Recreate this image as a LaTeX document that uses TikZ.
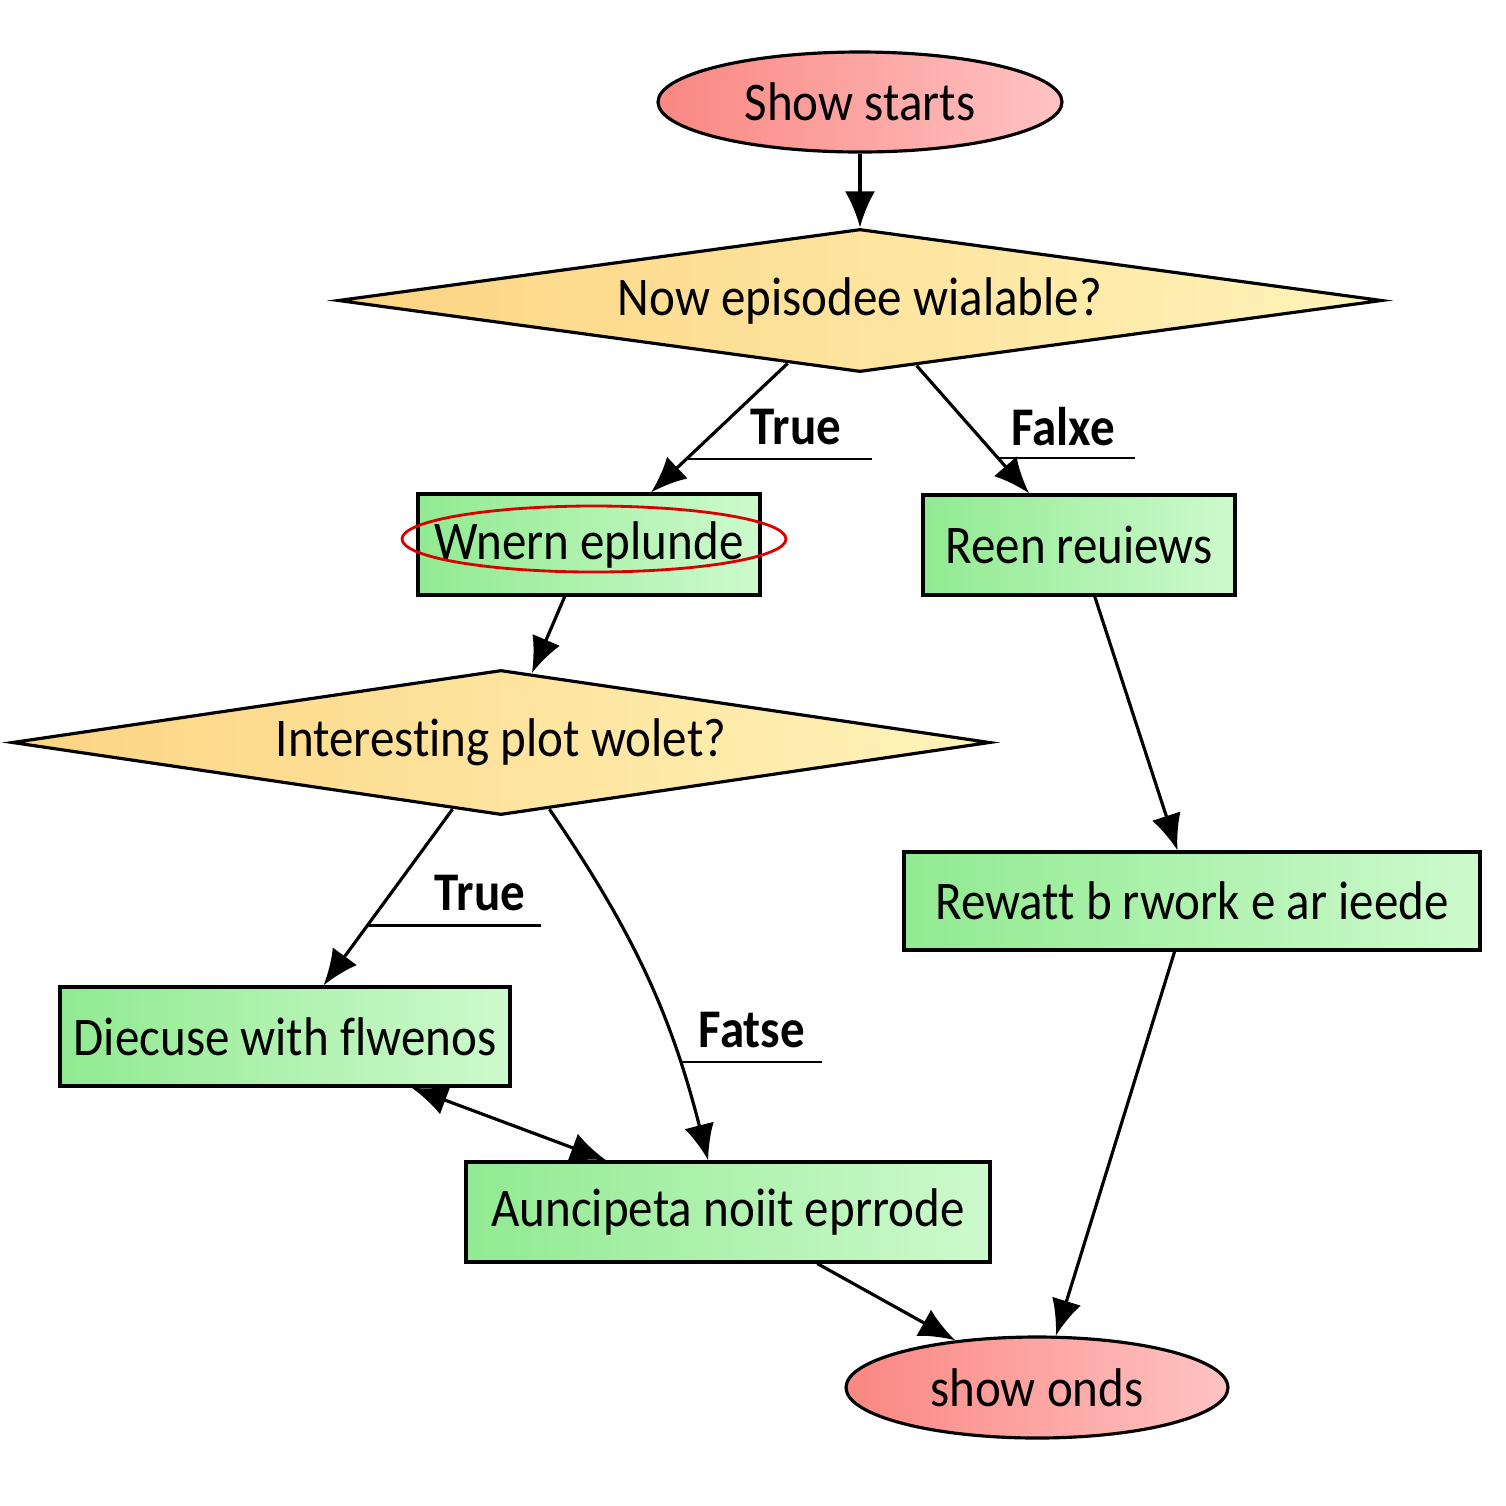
\documentclass[tikz,border=0pt]{standalone}
\usepackage{fontspec}
\setmainfont{Carlito}[FakeStretch=0.9, Ligatures=NoCommon]
\usetikzlibrary{shapes.geometric, arrows.meta}

\definecolor{termleft}{RGB}{250,135,130}
\definecolor{termright}{RGB}{255,195,195}
\definecolor{decleft}{RGB}{252,212,130}
\definecolor{decright}{RGB}{255,243,185}
\definecolor{procleft}{RGB}{145,234,145}
\definecolor{procright}{RGB}{205,250,205}

\begin{document}
\begin{tikzpicture}[
        >={Latex[length=3.6mm,width=3mm]},
        every node/.style={font=\fontsize{15.5}{18}\selectfont},
        terminal/.style={ellipse, draw, line width=0.9pt, left color=termleft, right color=termright, inner sep=0pt},
        decision/.style={diamond, draw, line width=0.9pt, left color=decleft, right color=decright, inner sep=0pt, shape aspect=7},
        process/.style={rectangle, draw, line width=0.9pt, left color=procleft, right color=procright, inner sep=0pt},
        flow/.style={->, line width=0.9pt},
        branch/.style={font=\bfseries\fontsize{15.5}{18}\selectfont},
        underline/.style={line width=0.6pt}
    ]
            \useasboundingbox (0,0) rectangle (15.06,-15.06);
            % nodes
            \node[terminal, minimum width=4.04cm, minimum height=1.0cm] (start) at (8.6,-1.02) {Show starts};
            \node[decision, minimum width=10.44cm, minimum height=1.43cm] (newep) at (8.6,-3.005) {Now episodee wialable?};
            \node[process, minimum width=3.42cm, minimum height=1.01cm] (watch) at (5.89,-5.445) {Wnern eplunde};
            \node[process, minimum width=3.12cm, minimum height=1.0cm] (reviews) at (10.79,-5.45) {Reen reuiews};
            \node[decision, minimum width=9.78cm, minimum height=1.45cm] (twist) at (5.01,-7.425) {Interesting plot wolet?};
            \node[process, minimum width=5.76cm, minimum height=0.98cm] (rewatch) at (11.92,-9.01) {Rewatt b rwork e ar ieede};
            \node[process, minimum width=4.5cm, minimum height=0.99cm] (discuss) at (2.85,-10.365) {Diecuse with flwenos};
            \node[process, minimum width=5.24cm, minimum height=1.0cm] (antic) at (7.28,-12.12) {Auncipeta noiit eprrode};
            \node[terminal, minimum width=3.82cm, minimum height=1.01cm] (finish) at (10.37,-13.875) {show onds};
            \node[ellipse, draw=red!85!black, line width=0.8pt, minimum width=3.84cm, minimum height=0.66cm, inner sep=0pt] (circled) at (5.94,-5.39) {};
            % connectors
            \draw[flow] (start.south) -- (newep.north);
            \draw[flow] (newep.221) -- coordinate[pos=0.74] (true1) (watch.40);
            \draw[flow] (newep.311.5) -- coordinate[pos=0.72] (false1) (reviews.134.4);
            \draw[flow] (watch.245) -- (twist.66);
            \draw[flow] (reviews.287) -- (rewatch.106);
            \draw[flow] (twist.234) -- coordinate[pos=0.66] (true2) (discuss.53.2);
            \draw[flow] (twist.306.5) to[bend left=10] coordinate[pos=0.75] (false2) (antic.111);
            \draw[flow, <->] (discuss.338) -- (antic.157.9);
            \draw[flow] (rewatch.251.6) -- (finish.70.4);
            \draw[flow] (antic.330.5) -- (finish.150.4);
            % branch labels
            \draw[underline] (true1) -- ++(1.85,0);
            \draw[underline] (false1) -- ++(1.37,0);
            \draw[underline] (true2) -- ++(1.74,0);
            \draw[underline] (false2) -- ++(1.42,0);
            \node[branch] (labtrue1) at (7.96,-4.27) {True};
            \node[branch] (labfalse1) at (10.63,-4.27) {Falxe};
            \node[branch] (labtrue2) at (4.80,-8.93) {True};
            \node[branch] (labfalse2) at (7.52,-10.30) {Fatse};
\end{tikzpicture}
\end{document}
